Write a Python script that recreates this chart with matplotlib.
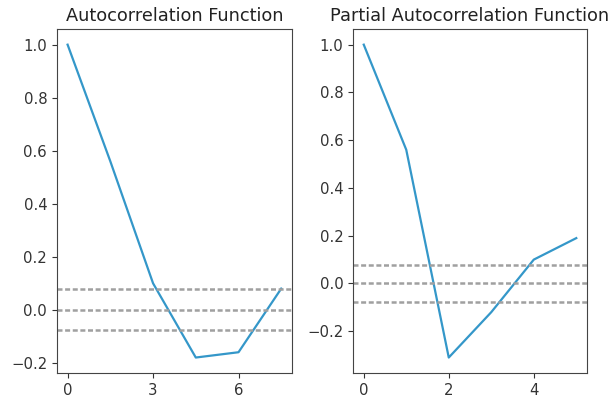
import numpy as np
import matplotlib.pyplot as plt

# ACF values (lags as plotted on the x axis)
acf_lags = [0, 1.5, 3, 4.5, 6, 7.5]
acf_vals = [1.0, 0.56, 0.1, -0.18, -0.16, 0.08]

# PACF values
pacf_lags = [0, 1, 2, 3, 4, 5]
pacf_vals = [1.0, 0.56, -0.31, -0.12, 0.1, 0.19]

conf = 0.078
line_color = '#3497c9'

fig = plt.figure(figsize=(6.12, 4.03), dpi=100)

ax1 = fig.add_axes([0.093, 0.074, 0.384, 0.854])
ax1.plot(acf_lags, acf_vals, color=line_color, lw=1.6)
for y in (-conf, 0, conf):
    ax1.axhline(y, color='#a0a0a0', lw=1.8, dashes=(2.0, 1.05))
ax1.set_xticks([0, 3, 6])
ax1.set_title('Autocorrelation Function', fontsize=12.8, color='#222222')

ax2 = fig.add_axes([0.577, 0.074, 0.382, 0.854])
ax2.plot(pacf_lags, pacf_vals, color=line_color, lw=1.6)
for y in (-conf, 0, conf):
    ax2.axhline(y, color='#a0a0a0', lw=1.8, dashes=(2.0, 1.05))
ax2.set_xticks([0, 2, 4])
ax2.set_title('Partial Autocorrelation Function', fontsize=12.8, color='#222222')

for ax in (ax1, ax2):
    ax.tick_params(colors='#333333', labelsize=10.7)
    for s in ax.spines.values():
        s.set_color('#444444')

fig.savefig('out.png', dpi=100)
